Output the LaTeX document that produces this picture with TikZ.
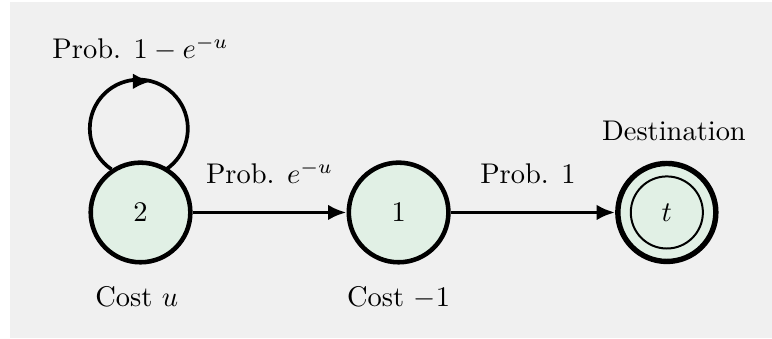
\documentclass[tikz,border=0pt]{standalone}
\usetikzlibrary{arrows.meta,positioning}
\definecolor{nodefill}{HTML}{E1F0E5}
\definecolor{bggray}{HTML}{F0F0F0}

\begin{document}
\begin{tikzpicture}[
    node distance=1.9cm,
    state/.style={circle, draw, line width=1.6pt, fill=nodefill, minimum size=1.23cm, inner sep=0pt},
    arrow/.style={-{Latex[length=6.5pt, width=5.5pt]}, line width=1.3pt},
    lbl/.style={font=\normalsize},
]
    \useasboundingbox (-1.735,-1.562) rectangle (7.796,2.623);
    \fill[bggray] (-1.611,-1.549) rectangle (7.796,2.599);

    \node[state] (n2) {$2$};
    \node[state, right=1.90cm of n2] (n1) {$1$};
    \node[state, line width=1.9pt, minimum size=1.21cm, right=2.03cm of n1] (t) {$t$};
    \node[circle, draw, line width=0.7pt, minimum size=0.89cm] (tin) at (t) {};

    % self loop on 2, head at the top
    \draw[line width=1.3pt] (n2.124) arc[start angle=236, end angle=75, radius=0.605cm] coordinate (looptip)
        arc[start angle=75, end angle=-56, radius=0.605cm];
    \draw[arrow] ([xshift=-6.5pt]looptip) -- (looptip);
    \draw[arrow] (n2) -- node[lbl, above=6pt] {Prob. $e^{-u}$} (n1);
    \draw[arrow] (n1) -- node[lbl, above=6pt, pos=0.47] {Prob. $1$} (t);

    \node[lbl, above=1.10cm of n2] (probloop) {Prob. $1-e^{-u}$};
    \node[lbl, above=3.3pt of t, xshift=2.5pt] (dest) {Destination};
    \node[lbl, below=0.15cm of n2, xshift=-1.3pt] (cost2) {Cost $u$};
    \node[lbl, below=0.15cm of n1] (cost1) {Cost $-1$};
\end{tikzpicture}
\end{document}
